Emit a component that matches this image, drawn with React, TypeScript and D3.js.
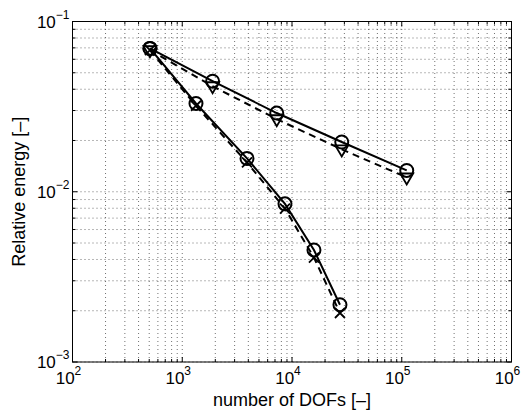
import React from "react";
import * as d3 from "d3";

const W = 526;
const H = 414;

// Upper pair (slow convergence)
const upperSolidX = [508, 1890, 7260, 28400, 111000];
const upperSolidY = [0.0695, 0.0446, 0.029, 0.0196, 0.01334];
const upperDashX = [508, 1890, 7260, 28400, 111000];
const upperDashY = [0.0679, 0.0417, 0.0267, 0.01775, 0.01214];

// Lower pair (fast convergence)
const lowerSolidX = [508, 1334, 3890, 8630, 15850, 27350];
const lowerSolidY = [0.0695, 0.033, 0.0157, 0.00849, 0.00455, 0.00217];
const lowerDashX = [508, 1334, 3890, 8630, 15850, 27350];
const lowerDashY = [0.0679, 0.032, 0.01486, 0.00796, 0.0041, 0.00194];

const xTickExps = [2, 3, 4, 5, 6];
const yTickExps = [-3, -2, -1];
const xLabel = "number of DOFs [–]";
const yLabel = "Relative energy [–]";

const margin = { left: 72.5, right: 14.5, top: 21.5, bottom: 52 };

export default function App() {
  const x = d3.scaleLog().domain([1e2, 1e6]).range([margin.left, W - margin.right]);
  const y = d3.scaleLog().domain([1e-3, 1e-1]).range([H - margin.bottom, margin.top]);
  const [x0, x1] = x.range();
  const [y0, y1] = y.range(); // y0 bottom, y1 top

  const xMinor: number[] = [];
  for (let e = 2; e < 6; e++) for (let k = 2; k <= 9; k++) xMinor.push(k * Math.pow(10, e));
  const yMinor: number[] = [];
  for (let e = -3; e < -1; e++) for (let k = 2; k <= 9; k++) yMinor.push(k * Math.pow(10, e));

  const line = d3.line<[number, number]>().x((d) => x(d[0])).y((d) => y(d[1]));
  const zip = (a: number[], b: number[]) => a.map((v, i) => [v, b[i]] as [number, number]);

  const gridStyle = { stroke: "#333", strokeWidth: 0.7, strokeDasharray: "1 3" };
  const font = "'Liberation Sans', Arial, Helvetica, sans-serif";

  const tri = (cx: number, cy: number) => {
    const s = 6.5;
    return `M${cx - s},${cy - s * 0.6} L${cx + s},${cy - s * 0.6} L${cx},${cy + s * 1.1} Z`;
  };

  return (
    <svg width={W} height={H} style={{ display: "block", position: "absolute", left: 0, top: 0 }}>
      <rect x={0} y={0} width={W} height={H} fill="#fff" />
      {/* grid */}
      {[...xTickExps.map((e) => Math.pow(10, e)), ...xMinor].map((v, i) => (
        <line key={"gx" + i} x1={x(v)} x2={x(v)} y1={y0} y2={y1} style={gridStyle} />
      ))}
      {[...yTickExps.map((e) => Math.pow(10, e)), ...yMinor].map((v, i) => (
        <line key={"gy" + i} y1={y(v)} y2={y(v)} x1={x0} x2={x1} style={gridStyle} />
      ))}
      {/* ticks */}
      {xTickExps.map((e) => {
        const px = x(Math.pow(10, e));
        return (
          <g key={"xt" + e}>
            <line x1={px} x2={px} y1={y0} y2={y0 - 5} stroke="#000" />
            <line x1={px} x2={px} y1={y1} y2={y1 + 5} stroke="#000" />
          </g>
        );
      })}
      {xMinor.map((v, i) => (
        <g key={"xm" + i}>
          <line x1={x(v)} x2={x(v)} y1={y0} y2={y0 - 3} stroke="#000" />
          <line x1={x(v)} x2={x(v)} y1={y1} y2={y1 + 3} stroke="#000" />
        </g>
      ))}
      {yTickExps.map((e) => {
        const py = y(Math.pow(10, e));
        return (
          <g key={"yt" + e}>
            <line y1={py} y2={py} x1={x0} x2={x0 + 5} stroke="#000" />
            <line y1={py} y2={py} x1={x1} x2={x1 - 5} stroke="#000" />
          </g>
        );
      })}
      {yMinor.map((v, i) => (
        <g key={"ym" + i}>
          <line y1={y(v)} y2={y(v)} x1={x0} x2={x0 + 3} stroke="#000" />
          <line y1={y(v)} y2={y(v)} x1={x1} x2={x1 - 3} stroke="#000" />
        </g>
      ))}
      <rect x={x0} y={y1} width={x1 - x0} height={y0 - y1} fill="none" stroke="#000" strokeWidth={1} />
      {/* lines */}
      <path d={line(zip(upperSolidX, upperSolidY)) || ""} fill="none" stroke="#000" strokeWidth={2} />
      <path d={line(zip(upperDashX, upperDashY)) || ""} fill="none" stroke="#000" strokeWidth={2} strokeDasharray="7 5" />
      <path d={line(zip(lowerSolidX, lowerSolidY)) || ""} fill="none" stroke="#000" strokeWidth={2} />
      <path d={line(zip(lowerDashX, lowerDashY)) || ""} fill="none" stroke="#000" strokeWidth={2} strokeDasharray="7 5" />
      {/* markers */}
      {zip(upperDashX, upperDashY).map((d, i) => (
        <path key={"tr" + i} d={tri(x(d[0]), y(d[1]))} fill="none" stroke="#000" strokeWidth={1.8} />
      ))}
      {zip(lowerDashX, lowerDashY).map((d, i) => {
        const cx = x(d[0]);
        const cy = y(d[1]);
        const s = 5;
        return (
          <path key={"xx" + i} d={`M${cx - s},${cy - s}L${cx + s},${cy + s}M${cx - s},${cy + s}L${cx + s},${cy - s}`} stroke="#000" strokeWidth={1.8} />
        );
      })}
      {zip(upperSolidX, upperSolidY).map((d, i) => (
        <circle key={"cu" + i} cx={x(d[0])} cy={y(d[1])} r={6.5} fill="none" stroke="#000" strokeWidth={2} />
      ))}
      {zip(lowerSolidX, lowerSolidY).map((d, i) => (
        <circle key={"cl" + i} cx={x(d[0])} cy={y(d[1])} r={6.5} fill="none" stroke="#000" strokeWidth={2} />
      ))}
      {/* tick labels */}
      {xTickExps.map((e) => (
        <text key={"xl" + e} x={x(Math.pow(10, e)) - 4} y={y0 + 22} fontFamily={font} fontSize={17} textAnchor="middle">
          10
          <tspan dy={-9} fontSize={12}>{String(e)}</tspan>
        </text>
      ))}
      {yTickExps.map((e) => (
        <text key={"yl" + e} x={x0 - 3} y={y(Math.pow(10, e)) + 6} fontFamily={font} fontSize={17} textAnchor="end">
          10
          <tspan dy={-9} fontSize={12}>{"\u2212" + String(-e)}</tspan>
        </text>
      ))}
      <text x={(x0 + x1) / 2} y={H - 8} fontFamily={font} fontSize={18} textAnchor="middle">{xLabel}</text>
      <text transform={`translate(${25},${(y0 + y1) / 2}) rotate(-90)`} fontFamily={font} fontSize={18} textAnchor="middle">{yLabel}</text>
    </svg>
  );
}
